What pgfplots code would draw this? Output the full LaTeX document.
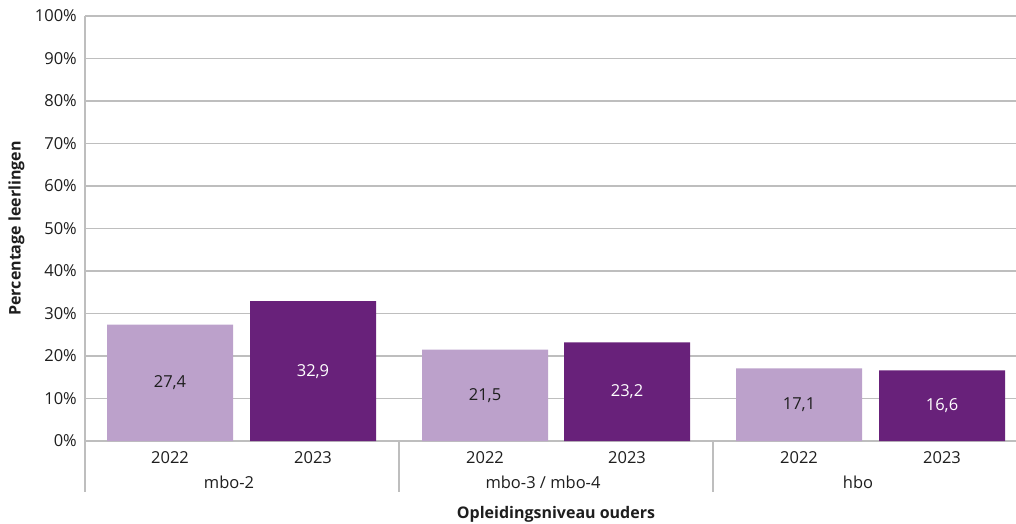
\documentclass[border=0pt]{standalone}
\usepackage{fontspec}
\setmainfont{Open Sans}
\usepackage{pgfplots}
\pgfplotsset{compat=1.18}
\pgfplotsset{/pgf/number format/assume math mode=true}
\definecolor{lightp}{RGB}{188,161,203}
\definecolor{darkp}{RGB}{104,33,122}
\definecolor{gridc}{RGB}{190,190,190}
\definecolor{txt}{RGB}{30,30,30}
\newcommand{\fs}{\fontsize{16.5}{19}\selectfont}
\newcommand{\fb}{\fontsize{16}{19}\selectfont}
\begin{document}
\begin{tikzpicture}[x=1pt,y=1pt]
\useasboundingbox (0,0) rectangle (1016,523);
\begin{axis}[
  at={(85pt,82pt)}, anchor=south west,
  scale only axis, width=942pt, height=425pt,
  xmin=85, xmax=1027, ymin=0, ymax=100,
  clip=false,
  axis x line*=bottom, axis y line*=left,
  axis line style={gridc, line width=1.3pt, -},
  major tick length=0pt,
  ytick={0,10,...,100},
  yticklabel={\pgfmathprintnumber{\tick}\%},
  yticklabel style={font=\fs, anchor=east, inner sep=0pt, xshift=-8pt, text=txt},
  ymajorgrids,
  grid style={gridc, line width=1.3pt},
  xtick={170,313,485,627,799,942},
  xticklabels={2022,2023,2022,2023,2022,2023},
  xticklabel style={font=\fs, anchor=base, inner sep=0pt, yshift=-22pt, text=txt},
  ylabel={\bfseries Percentage leerlingen},
  ylabel style={font=\fb, text=txt, at={([xshift=-68.5pt]axis description cs:0,0.5)}, anchor=center},
  xlabel={\bfseries Opleidingsniveau ouders},
  xlabel style={font=\fb, text=txt, at={(axis description cs:0.5,0)}, anchor=base, yshift=-77pt},
  visualization depends on={y \as \rawy},
  nodes near coords={\pgfmathprintnumber[fixed,fixed zerofill,precision=1,use comma]{\pgfplotspointmeta}},
  every node near coord/.append style={font=\fs, anchor=center, shift={(axis direction cs:0,-\rawy/2)}},
]
\addplot[ybar, bar width=126, bar shift=0pt, fill=lightp, draw=none,
  every node near coord/.append style={text=txt}]
  coordinates {(170,27.4) (485,21.5) (799,17.1)};
\addplot[ybar, bar width=126, bar shift=0pt, fill=darkp, draw=none,
  every node near coord/.append style={text=white}]
  coordinates {(313,32.9) (627,23.2) (942,16.6)};
\draw[gridc, line width=1.3pt] (axis cs:85,0) -- ([yshift=-51pt]axis cs:85,0);
\draw[gridc, line width=1.3pt] (axis cs:399,0) -- ([yshift=-51pt]axis cs:399,0);
\draw[gridc, line width=1.3pt] (axis cs:713,0) -- ([yshift=-51pt]axis cs:713,0);
\node[font=\fs, anchor=base, inner sep=0pt, text=txt] at ([yshift=-47pt]axis cs:229,0) {mbo-2};
\node[font=\fs, anchor=base, inner sep=0pt, text=txt] at ([yshift=-47pt]axis cs:543,0) {mbo-3 / mbo-4};
\node[font=\fs, anchor=base, inner sep=0pt, text=txt] at ([yshift=-47pt]axis cs:858,0) {hbo};
\end{axis}
\end{tikzpicture}
\end{document}
